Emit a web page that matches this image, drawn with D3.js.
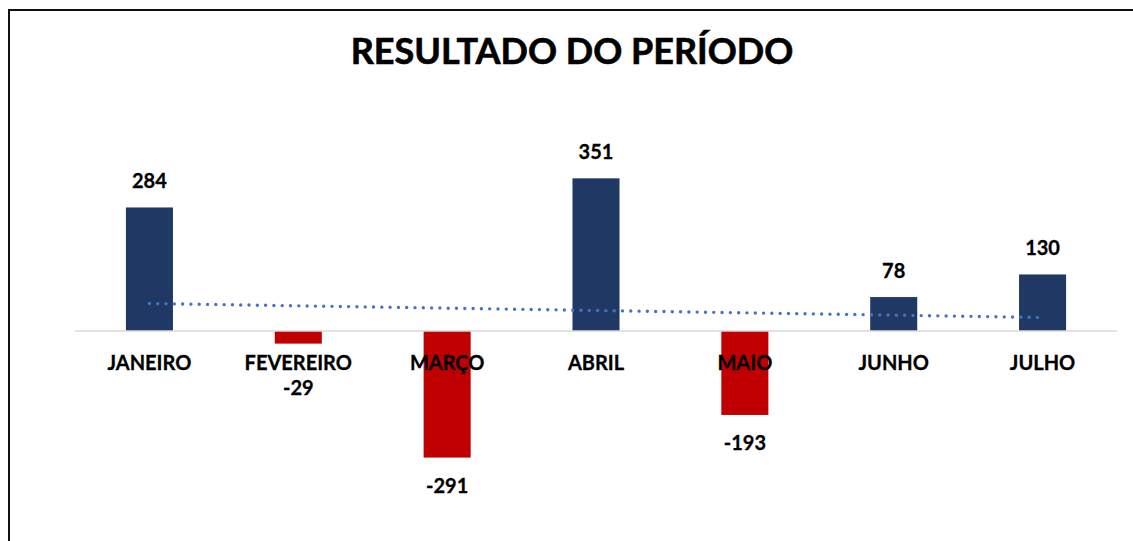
<!DOCTYPE html>
<html>
<head>
<meta charset="utf-8">
<script src="https://cdn.jsdelivr.net/npm/d3@7"></script>
<style>
  body { margin: 0; background: #fff; }
  svg { display: block; }
</style>
</head>
<body>
<script>
// chart data
var months = ["JANEIRO", "FEVEREIRO", "MARÇO", "ABRIL", "MAIO", "JUNHO", "JULHO"];
var results = [284, -29, -291, 351, -193, 78, 130];
var title = "RESULTADO DO PERÍODO";

var width = 1133, height = 541;
var font = "Lato, 'Open Sans', sans-serif";

var svg = d3.select("body").append("svg")
    .attr("width", width)
    .attr("height", height);

svg.append("rect")
    .attr("width", width).attr("height", height)
    .attr("fill", "#fff");

// chart border (runs off to the right/bottom)
svg.append("rect")
    .attr("x", 9).attr("y", 10)
    .attr("width", 1140).attr("height", 560)
    .attr("fill", "none")
    .attr("stroke", "#111")
    .attr("stroke-width", 2);

svg.append("text")
    .attr("x", 572).attr("y", 64)
    .attr("text-anchor", "middle")
    .attr("font-family", font)
    .attr("font-weight", "bold")
    .attr("font-size", "36px")
    .attr("fill", "#000")
    .attr("stroke", "#000")
    .attr("stroke-width", 0.6)
    .text(title);

var x = d3.scaleBand()
    .domain(months)
    .range([75, 1117])
    .paddingInner(0.684)
    .paddingOuter(0.342);

var y = d3.scaleLinear()
    .domain([-400, 400])
    .range([505, 157]);

var data = months.map(function(m, i) { return {month: m, value: results[i], idx: i + 1}; });

// bars
svg.selectAll("rect.bar")
    .data(data)
    .enter().append("rect")
    .attr("class", "bar")
    .attr("x", function(d) { return x(d.month); })
    .attr("y", function(d) { return y(Math.max(0, d.value)); })
    .attr("width", x.bandwidth())
    .attr("height", function(d) { return Math.abs(y(d.value) - y(0)); })
    .attr("fill", function(d) { return d.value >= 0 ? "#203864" : "#C00000"; });

// zero line
svg.append("line")
    .attr("x1", 75).attr("x2", 1117)
    .attr("y1", y(0)).attr("y2", y(0))
    .attr("stroke", "#D9D9D9")
    .attr("stroke-width", 1.5);

// linear trend line
var n = data.length;
var mx = d3.mean(data, function(d) { return d.idx; });
var my = d3.mean(data, function(d) { return d.value; });
var sxy = d3.sum(data, function(d) { return (d.idx - mx) * (d.value - my); });
var sxx = d3.sum(data, function(d) { return (d.idx - mx) * (d.idx - mx); });
var slope = sxy / sxx, icpt = my - slope * mx;
var cx = function(d) { return x(d.month) + x.bandwidth() / 2; };

svg.append("line")
    .attr("x1", cx(data[0])).attr("y1", y(icpt + slope * 1))
    .attr("x2", cx(data[n - 1])).attr("y2", y(icpt + slope * n))
    .attr("stroke", "#4472C4")
    .attr("stroke-width", 3.4)
    .attr("stroke-linecap", "round")
    .attr("stroke-dasharray", "0 8.3");

// category labels (drawn over the bars)
var catY = 370;
svg.selectAll("text.cat")
    .data(data)
    .enter().append("text")
    .attr("class", "cat")
    .attr("x", cx)
    .attr("y", catY)
    .attr("text-anchor", "middle")
    .attr("font-family", font)
    .attr("font-weight", "bold")
    .attr("font-size", "20px")
    .attr("fill", "#000")
    .attr("stroke", "#000")
    .attr("stroke-width", 0.3)
    .text(function(d) { return d.month; });

// value labels
svg.selectAll("text.val")
    .data(data)
    .enter().append("text")
    .attr("class", "val")
    .attr("x", cx)
    .attr("y", function(d) {
      if (d.value >= 0) return y(d.value) - 19;
      return Math.max(y(d.value) + 35, catY + 25);
    })
    .attr("text-anchor", "middle")
    .attr("font-family", font)
    .attr("font-weight", "bold")
    .attr("font-size", "20px")
    .attr("fill", "#000")
    .attr("stroke", "#000")
    .attr("stroke-width", 0.3)
    .text(function(d) { return d.value; });
</script>
</body>
</html>
